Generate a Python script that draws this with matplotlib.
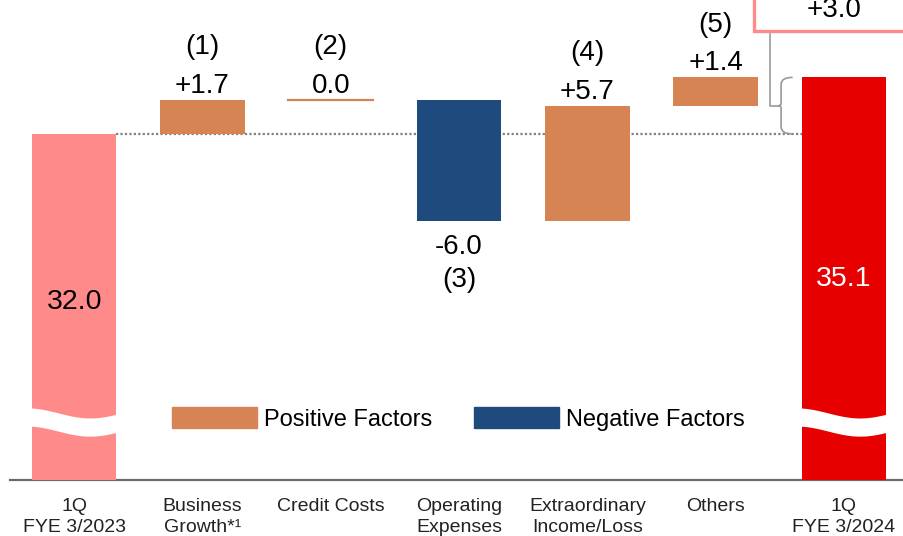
import matplotlib
matplotlib.use("Agg")
import matplotlib.pyplot as plt
import numpy as np
from matplotlib.patches import Patch, Rectangle
from matplotlib.path import Path
from matplotlib.patches import PathPatch

plt.rcParams['font.family'] = ['Liberation Sans', 'DejaVu Sans']

# data
categories = ["1Q\nFYE 3/2023", "Business\nGrowth*\u00b9", "Credit Costs",
              "Operating\nExpenses", "Extraordinary\nIncome/Loss", "Others",
              "1Q\nFYE 3/2024"]
start_value = 32.0
end_value = 35.1
deltas = [1.7, 0.0, -6.0, 5.7, 1.4]
delta_tags = ["(1)", "(2)", "(3)", "(4)", "(5)"]
total_change = 3.0

PINK = "#FF8A8A"
RED = "#E60000"
ORANGE = "#D78455"
BLUE = "#1F4A7D"
GRAY = "#6b6b6b"

fig = plt.figure(figsize=(9.04, 5.36), dpi=100)
ax = fig.add_axes([10 / 904, 56 / 536, 894 / 904, 480 / 536])
ymin, ymax = 14.87, 38.63
ax.set_xlim(-0.5, 6.468)
ax.set_ylim(ymin, ymax)

w = 0.66
x = np.arange(len(categories))

# start / end bars (broken axis)
running = start_value + np.cumsum(deltas)
ax.bar(x[0], start_value - ymin, bottom=ymin, width=w, color=PINK, zorder=2)
ax.bar(x[-1], running[-1] - ymin, bottom=ymin, width=w, color=RED, zorder=2)

# wave break
for xc in (x[0], x[-1]):
    xs = np.linspace(xc - 0.37, xc + 0.37, 100)
    t = (xs - xs[0]) / (xs[-1] - xs[0])
    yc = 17.74 + 0.25 * np.cos(2 * np.pi * 0.75 * t)
    ax.fill_between(xs, yc - 0.45, yc + 0.45, color="white", lw=0, zorder=3)

ax.text(x[0], (start_value + ymin) / 2 + 0.25, f"{start_value:.1f}", ha="center",
        va="center", fontsize=20.5, color="black", zorder=4)
ax.text(x[-1], (running[-1] + ymin) / 2, f"{end_value:.1f}", ha="center",
        va="center", fontsize=20.5, color="white", zorder=4)

# factor bars
prev = start_value
for i, d in enumerate(deltas):
    xi = x[i + 1]
    if d > 0:
        ax.bar(xi, d, bottom=prev, width=w, color=ORANGE, zorder=2)
    elif d < 0:
        ax.bar(xi, d, bottom=prev, width=w, color=BLUE, zorder=2)
    else:
        ax.plot([xi - w / 2, xi + w / 2], [prev, prev], color=ORANGE, lw=1.6, zorder=2)
    top = max(prev, prev + d)
    bot = min(prev, prev + d)
    if d >= 0:
        lab = f"+{d:.1f}" if d > 0 else f"{d:.1f}"
        ax.annotate(lab, (xi, top), xytext=(0, 5), textcoords="offset points",
                    ha="center", va="baseline", fontsize=20)
        ax.annotate(delta_tags[i], (xi, top), xytext=(0, 33), textcoords="offset points",
                    ha="center", va="baseline", fontsize=20)
    else:
        ax.annotate(f"{d:.1f}", (xi, bot), xytext=(0, -24), textcoords="offset points",
                    ha="center", va="baseline", fontsize=20)
        ax.annotate(delta_tags[i], (xi, bot), xytext=(0, -48), textcoords="offset points",
                    ha="center", va="baseline", fontsize=20)
    prev = prev + d

# dotted reference line
ax.plot([x[0] + w / 2, x[-1] - w / 2], [start_value, start_value],
        color="#808080", lw=1.6, ls=(0, (1, 1)), zorder=1)

# bracket and total change box
xt, xs_, xp = 5.60, 5.51, 5.49
ytop, ybot = running[-1], start_value
ymid = (ytop + ybot) / 2
r, r2 = 0.35, 0.12
verts = [(xt, ytop), (xs_, ytop), (xs_, ytop - r), (xs_, ymid + r2),
         (xs_, ymid), (xp, ymid), (xs_, ymid), (xs_, ymid - r2),
         (xs_, ybot + r), (xs_, ybot), (xt, ybot)]
codes = [Path.MOVETO, Path.CURVE3, Path.CURVE3, Path.LINETO,
         Path.CURVE3, Path.CURVE3, Path.CURVE3, Path.CURVE3,
         Path.LINETO, Path.CURVE3, Path.CURVE3]
ax.add_patch(PathPatch(Path(verts, codes), fill=False, ec="#999999", lw=1.2, zorder=2))
ax.plot([5.42, 5.42, xp], [37.1, ymid, ymid], color="#999999", lw=1.2, zorder=2)
ax.add_patch(Rectangle((5.296, 37.1), 2.0, 3.0, fill=True, fc="white", ec=PINK,
                       lw=2.4, clip_on=False, zorder=5))
ax.text(5.92, 37.79, f"+{total_change:.1f}", ha="center", va="baseline",
        fontsize=20, zorder=6)

# legend
handles = [Patch(color=ORANGE, label="Positive Factors"),
           Patch(color=BLUE, label="Negative Factors")]
ax.legend(handles=handles, ncol=2, loc="center left", frameon=False,
          bbox_to_anchor=(172 / 904, 1 - 419 / 536), bbox_transform=fig.transFigure,
          fontsize=17, handlelength=3.6, handleheight=1.0, handletextpad=0.3,
          columnspacing=1.75, borderpad=0, borderaxespad=0)

# axes styling
for s in ("top", "left", "right"):
    ax.spines[s].set_visible(False)
ax.spines["bottom"].set_color(GRAY)
ax.spines["bottom"].set_linewidth(1.6)
ax.spines["bottom"].set_zorder(1)
ax.set_yticks([])
ax.set_xticks(x)
ax.set_xticklabels(categories, fontsize=14, color="#222222", linespacing=1.3)
ax.tick_params(axis="x", length=0, pad=13)

fig.savefig("out.png", dpi=100)
